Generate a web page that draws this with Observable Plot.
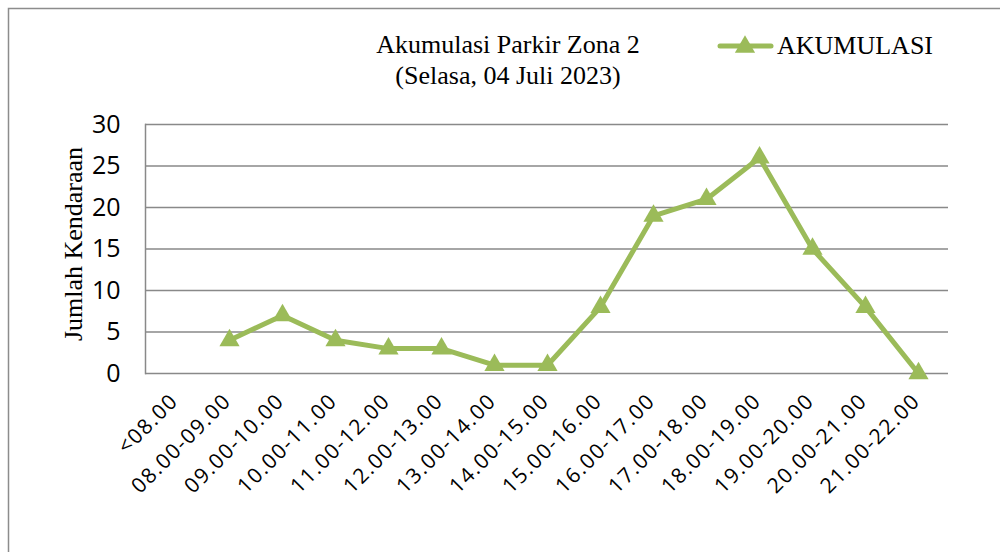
<!DOCTYPE html>
<html>
<head>
<meta charset="utf-8">
<script src="https://cdn.jsdelivr.net/npm/d3@7"></script>
<script src="https://cdn.jsdelivr.net/npm/@observablehq/plot@0.6"></script>
<style>
  html, body { margin: 0; padding: 0; background: #fff; }
  #chart { width: 1000px; height: 552px; overflow: hidden; }
  .xax text { letter-spacing: 1.5px; }
</style>
</head>
<body>
<div id="chart"></div>
<script>
const categories = ["<08.00","08.00-09.00","09.00-10.00","10.00-11.00","11.00-12.00","12.00-13.00","13.00-14.00","14.00-15.00","15.00-16.00","16.00-17.00","17.00-18.00","18.00-19.00","19.00-20.00","20.00-21.00","21.00-22.00"];
const akumulasi = [null,4,7,4,3,3,1,1,8,19,21,26,15,8,0];
const yTicks = [0,5,10,15,20,25,30];
const titleLines = ["Akumulasi Parkir Zona 2", "(Selasa, 04 Juli 2023)"];
const seriesName = "AKUMULASI";
const yLabel = "Jumlah Kendaraan";

const GREEN = "#9BBB59";
const GRID = "#898989";
const SERIF = "'Liberation Serif', 'Times New Roman', serif";
const SANS = "'Open Sans', sans-serif";

const data = categories.map((c, i) => ({cat: c, val: akumulasi[i]}));

const plot = Plot.plot({
  width: 1000,
  height: 552,
  marginLeft: 145,
  marginRight: 52,
  marginTop: 124,
  marginBottom: 179,
  style: {fontFamily: SANS, fontSize: "20px", color: "#000", background: "transparent"},
  x: {type: "point", domain: categories, padding: 0.5},
  y: {domain: [0, 30]},
  marks: [
    Plot.ruleY(yTicks, {stroke: GRID, strokeWidth: 1.5}),
    Plot.frame({anchor: "left", stroke: GRID, strokeWidth: 1.5}),
    Plot.axisY({ticks: yTicks, tickSize: 0, tickPadding: 25, label: null, fontSize: 25, fontFamily: SANS}),
    Plot.axisX({tickSize: 0, tickPadding: 24, tickRotate: -45, dx: -2, label: null, fontSize: 21, fontFamily: SANS, className: "xax"}),
    Plot.line(data, {x: "cat", y: "val", stroke: GREEN, strokeWidth: 5, strokeLinejoin: "round"}),
    Plot.dot(data.filter(d => d.val != null), {x: "cat", y: "val", symbol: "triangle", r: 7.5, fill: GREEN, stroke: "none"})
  ]
});

document.getElementById("chart").appendChild(plot);

const svg = d3.select(plot);
// outer border
svg.insert("rect", ":first-child")
  .attr("x", 8.5).attr("y", 8.5).attr("width", 1100).attr("height", 700)
  .attr("fill", "none").attr("stroke", "#8c8c8c").attr("stroke-width", 1.5);

// title
const title = svg.append("text")
  .attr("font-family", SERIF).attr("font-size", 26).attr("text-anchor", "middle").attr("fill", "#000");
titleLines.forEach((t, i) => {
  title.append("tspan").attr("x", 508).attr("y", 53 + i * 31).text(t);
});

// legend
const lg = svg.append("g");
lg.append("line").attr("x1", 720).attr("x2", 771).attr("y1", 46).attr("y2", 46)
  .attr("stroke", GREEN).attr("stroke-width", 5).attr("stroke-linecap", "round");
lg.append("path").attr("d", d3.symbol(d3.symbolTriangle, Math.PI * 7.5 * 7.5)())
  .attr("transform", "translate(745,47)").attr("fill", GREEN);
lg.append("text").attr("x", 777).attr("y", 54).attr("text-anchor", "start")
  .attr("font-family", SERIF).attr("font-size", 26).attr("fill", "#000").text(seriesName);

// y label
svg.append("text")
  .attr("transform", "translate(82,244) rotate(-90)")
  .attr("text-anchor", "middle")
  .attr("font-family", SERIF).attr("font-size", 26).attr("fill", "#000").text(yLabel);
</script>
</body>
</html>
